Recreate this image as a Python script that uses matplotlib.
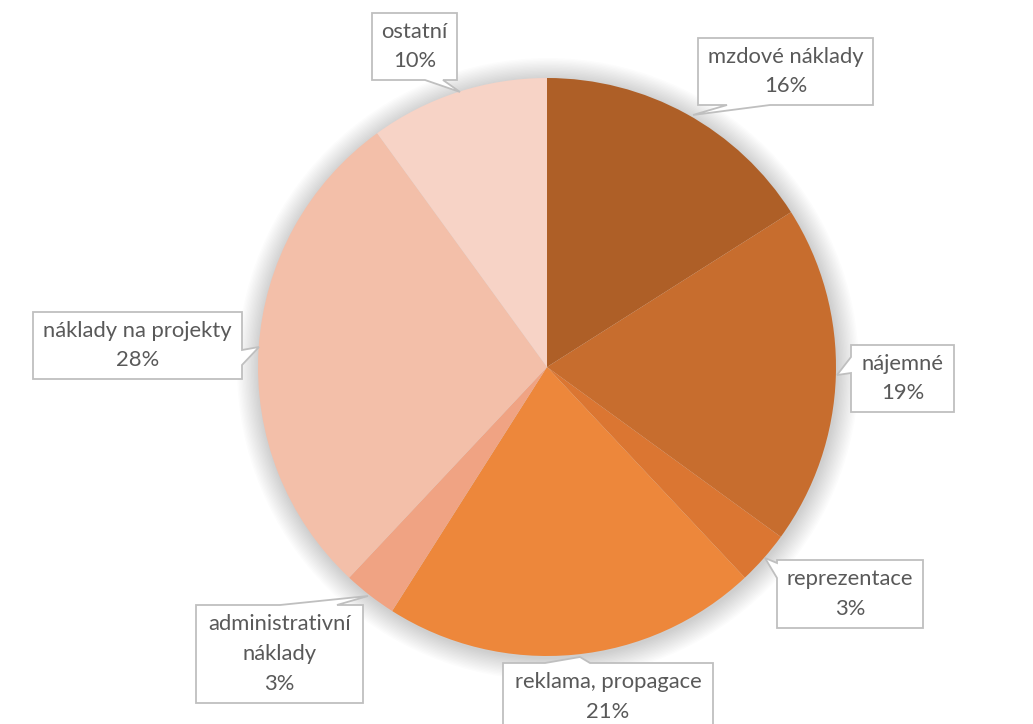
import numpy as np
import matplotlib.pyplot as plt
from matplotlib.patches import Circle, Polygon

plt.rcParams['font.family'] = ['Lato', 'DejaVu Sans']

# data (clockwise from 12 o'clock)
labels = ['mzdové náklady', 'nájemné', 'reprezentace', 'reklama, propagace',
          'administrativní\nnáklady', 'náklady na projekty', 'ostatní']
shares = [16, 19, 3, 21, 3, 28, 10]
colors = ['#AE5F27', '#C76D2E', '#DB7632', '#ED873B', '#F0A383', '#F3BFA9', '#F7D3C6']

# callout boxes: (x0, y0, x1, y1) in pixels from the top-left corner,
# side of the pointer, its two base points along that side, and its tip
boxes = [(698, 38, 873, 105), (851, 345, 954, 412), (777, 560, 923, 628),
         (503, 663, 713, 740), (196, 605, 363, 703), (33, 312, 242, 379),
         (372, 13, 457, 80)]
pointers = [('bottom', (727, 770), (693, 115)),
            ('left', (357, 373), (837, 375)),
            ('left', (563, 578), (765, 558)),
            ('top', (545, 590), (580, 657)),
            ('top', (280, 337), (368, 596)),
            ('right', (350, 365), (259, 347)),
            ('bottom', (425, 443), (460, 92))]

W, H = 1033, 724
fig = plt.figure(figsize=(W / 100, H / 100), dpi=100)
ax = fig.add_axes([0, 0, 1, 1])

cx, cy, r = 547, H - 367, 289

# soft shadow round the pie
for k in range(16):
    ax.add_patch(Circle((cx + 1, cy - 2), r + 1 + k * 1.4, color='#000000',
                        alpha=0.011, lw=0, zorder=0))

ax.pie(shares, colors=colors, startangle=90, counterclock=False,
       center=(cx, cy), radius=r, frame=True,
       wedgeprops=dict(linewidth=0))
ax.set_xlim(0, W)
ax.set_ylim(0, H)
ax.set_aspect('equal')
ax.axis('off')


def callout(box, side, base, tip):
    x0, y0, x1, y1 = box
    a, b = base
    if side == 'top':
        pts = [(x0, y0), (a, y0), tip, (b, y0), (x1, y0), (x1, y1), (x0, y1)]
    elif side == 'bottom':
        pts = [(x0, y0), (x1, y0), (x1, y1), (b, y1), tip, (a, y1), (x0, y1)]
    elif side == 'left':
        pts = [(x0, y0), (x1, y0), (x1, y1), (x0, y1), (x0, b), tip, (x0, a)]
    else:
        pts = [(x0, y0), (x1, y0), (x1, a), tip, (x1, b), (x1, y1), (x0, y1)]
    pts = [(px, H - py) for px, py in pts]
    ax.add_patch(Polygon(pts, closed=True, fc='white', ec='#BFBFBF', lw=1.3,
                         joinstyle='miter', zorder=3))


for lab, s, box, (side, base, tip) in zip(labels, shares, boxes, pointers):
    callout(box, side, base, tip)
    x0, y0, x1, y1 = box
    yc = (y0 + min(y1, 730)) / 2 if y1 < H else y0 + 34
    ax.text((x0 + x1) / 2, H - yc, f'{lab}\n{s}%', ha='center', va='center',
            fontsize=15.8, color='#595959', linespacing=1.6, zorder=4)

fig.savefig('out.png', dpi=100)
